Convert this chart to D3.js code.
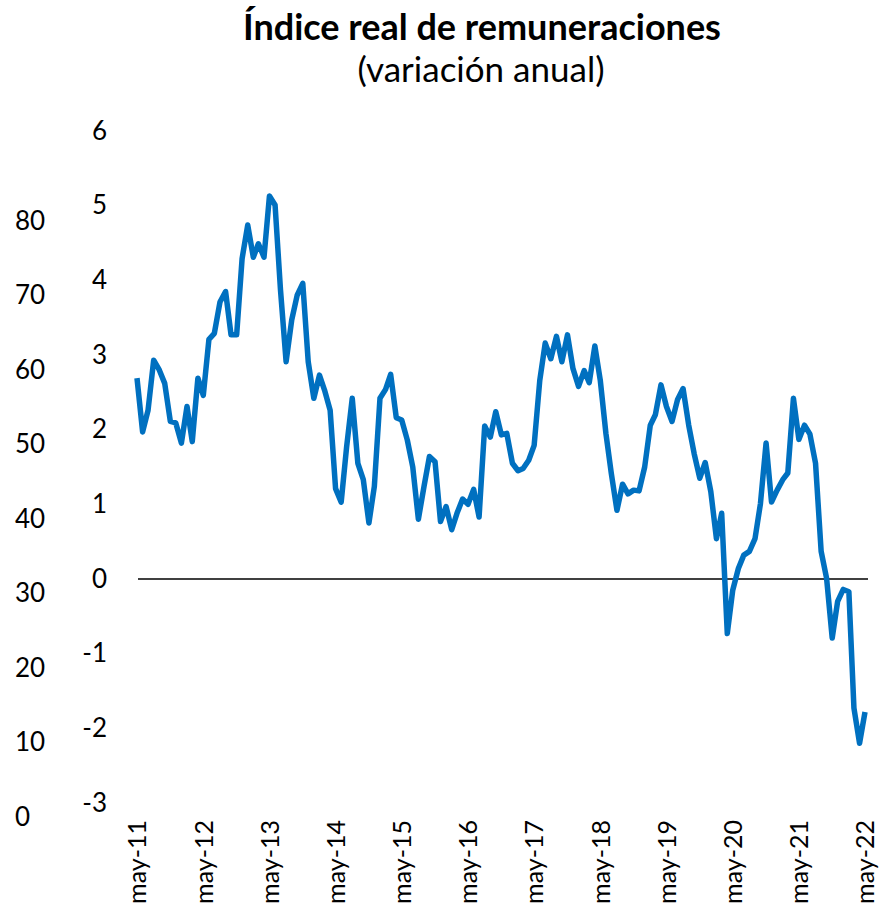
<!DOCTYPE html>
<html>
<head>
<meta charset="utf-8">
<script src="https://cdn.jsdelivr.net/npm/d3@7"></script>
<style>
  body { margin: 0; background: #fff; }
  text { font-family: Lato, "Open Sans", sans-serif; fill: #000; }
</style>
</head>
<body>
<div id="chart"></div>
<script>
var title = "Índice real de remuneraciones";
var subtitle = "(variación anual)";

// monthly values, may-11 .. may-22
var values = [
  2.69, 1.97, 2.26, 2.93, 2.80, 2.62, 2.11, 2.09, 1.82, 2.31, 1.84, 2.69,
  2.46, 3.21, 3.29, 3.71, 3.85, 3.27, 3.27, 4.29, 4.74, 4.31, 4.49, 4.31,
  5.13, 5.01, 3.87, 2.91, 3.47, 3.80, 3.96, 2.91, 2.42, 2.73, 2.53, 2.26,
  1.21, 1.03, 1.77, 2.42, 1.55, 1.33, 0.75, 1.24, 2.42, 2.54, 2.74, 2.16,
  2.13, 1.86, 1.50, 0.80, 1.24, 1.64, 1.57, 0.77, 0.97, 0.66, 0.88, 1.07,
  1.00, 1.20, 0.83, 2.05, 1.90, 2.24, 1.93, 1.95, 1.55, 1.45, 1.48, 1.59,
  1.79, 2.66, 3.16, 2.95, 3.25, 2.91, 3.27, 2.82, 2.58, 2.79, 2.63, 3.12,
  2.66, 1.95, 1.41, 0.92, 1.27, 1.14, 1.19, 1.18, 1.50, 2.06, 2.20, 2.60,
  2.31, 2.11, 2.40, 2.55, 2.06, 1.68, 1.35, 1.56, 1.17, 0.54, 0.88, -0.73,
  -0.15, 0.14, 0.32, 0.37, 0.54, 1.01, 1.82, 1.03, 1.19, 1.33, 1.42, 2.42,
  1.87, 2.06, 1.94, 1.55, 0.37, 0.01, -0.79, -0.30, -0.14, -0.17, -1.73, -2.20,
  -1.78
];

var tickLabels = ["may-11", "may-12", "may-13", "may-14", "may-15", "may-16",
                  "may-17", "may-18", "may-19", "may-20", "may-21", "may-22"];
var leftTicks = [0, 10, 20, 30, 40, 50, 60, 70, 80];
var rightTicks = [-3, -2, -1, 0, 1, 2, 3, 4, 5, 6];

var start = new Date(2011, 4, 1);
var data = values.map(function(v, i) {
  return { date: d3.timeMonth.offset(start, i), value: v };
});

var width = 894, height = 920;

var svg = d3.select("#chart")
  .append("svg")
    .attr("width", width)
    .attr("height", height);

// scales
var x = d3.scaleTime()
  .domain([start, d3.timeMonth.offset(start, values.length - 1)])
  .range([137, 865]);

var y = d3.scaleLinear().domain([-3, 6]).range([803, 131]);
var y2 = d3.scaleLinear().domain([0, 80]).range([817, 221]);

// titles
svg.append("text")
  .attr("x", 482)
  .attr("y", 40)
  .attr("text-anchor", "middle")
  .style("font-size", "36px")
  .style("font-weight", "bold")
  .text(title);

svg.append("text")
  .attr("x", 481)
  .attr("y", 82)
  .attr("text-anchor", "middle")
  .style("font-size", "35px")
  .text(subtitle);

// outer axis (0..80)
var outerAxis = d3.axisLeft(y2).tickValues(leftTicks).tickFormat(String)
  .tickSize(0).tickPadding(0);
var gOuter = svg.append("g")
  .attr("transform", "translate(15,0)")
  .call(outerAxis);
gOuter.select(".domain").remove();
gOuter.selectAll("text")
  .attr("text-anchor", "start")
  .attr("x", 0)
  .style("font-size", "26px")
  .style("font-family", "Lato, sans-serif")
  .attr("fill", "#000");

// inner axis (-3..6), plain hyphen for negatives
var innerAxis = d3.axisLeft(y).tickValues(rightTicks).tickFormat(String)
  .tickSize(0).tickPadding(0);
var gInner = svg.append("g")
  .attr("transform", "translate(107,0)")
  .call(innerAxis);
gInner.select(".domain").remove();
gInner.selectAll("text")
  .style("font-size", "26px")
  .style("font-family", "Lato, sans-serif")
  .attr("fill", "#000");

// zero line
svg.append("line")
  .attr("x1", x(start) + 1)
  .attr("x2", x(d3.timeMonth.offset(start, values.length - 1)) + 3)
  .attr("y1", y(0))
  .attr("y2", y(0))
  .attr("stroke", "#000")
  .attr("stroke-width", 1.5);

// x axis labels
var tickDates = tickLabels.map(function(d, i) { return d3.timeMonth.offset(start, 12 * i); });
var xAxis = d3.axisBottom(x)
  .tickValues(tickDates)
  .tickFormat(function(d, i) { return tickLabels[i]; })
  .tickSize(0);
var gx = svg.append("g")
  .attr("transform", "translate(0,820)")
  .call(xAxis);
gx.select(".domain").remove();
gx.selectAll("text")
  .attr("transform", "rotate(-90)")
  .attr("text-anchor", "end")
  .attr("x", 0)
  .attr("y", 0)
  .attr("dy", "0.35em")
  .style("font-size", "25px")
  .style("font-family", "Lato, sans-serif")
  .attr("fill", "#000");

// the series
svg.append("path")
  .datum(data)
  .attr("fill", "none")
  .attr("stroke", "#0070C0")
  .attr("stroke-width", 5.5)
  .attr("stroke-linejoin", "round")
  .attr("d", d3.line()
    .x(function(d) { return x(d.date); })
    .y(function(d) { return y(d.value); }));
</script>
</body>
</html>
